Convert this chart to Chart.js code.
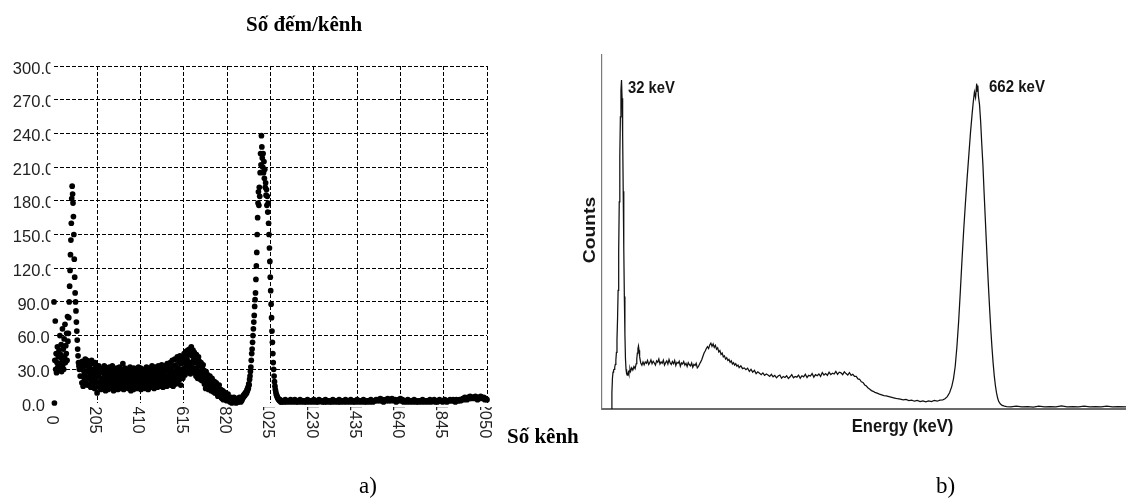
<!DOCTYPE html>
<html><head><meta charset="utf-8">
<script src="https://cdn.jsdelivr.net/npm/chart.js@4.4.1/dist/chart.umd.min.js"></script>
<style>
html,body{margin:0;padding:0;background:#fff;width:1126px;height:498px;overflow:hidden;}
#ca{position:absolute;left:0;top:0;width:600px;height:498px;}
#cb{position:absolute;left:560px;top:0;width:566px;height:498px;}
</style></head><body>
<canvas id="ca" width="600" height="498"></canvas>
<canvas id="cb" width="566" height="498"></canvas>
<script>
// ---------- Panel a) : counts per channel (dots) ----------
const xTickLabels = ['0','205','410','615','820','1025','1230','1435','1640','1845','2050'];
const yTickLabels = ['0.0','30.0','60.0','90.0','120.0','150.0','180.0','210.0','240.0','270.0','300.0'];
// each segment: first channel and channel step
const segmentStartChannels = [0, 130, 892, 1085];
const segmentSteps = [2, 2, 2, 5];
// ch 0-128
const countsLowEnergy = [90,0,38,73,30,44,27,36,50,32,41,29,47,35,60,31,43,52,28,39,66,34,48,30,57,41,70,36,51,44,62,38,77,55,
 62,76,90,104,118,132,145,160,182,193,186,178,166,150,128,112,98,90,82,72,64,56,48,42,36,33,30,36,24,32];
// ch 130-890
const countsCompton = [
 32,18,37,24,15,29,35,21,26,39, 19,33,23,38,16,28,36,22,31,17, 34,25,14,30,38,20,27,16,35,23, 29,13,36,21,32,18,26,9,30,15,
 24,33,14,27,19,31,12,22,29,16, 30,20,13,26,33,17,23,11,28,21, 15,31,24,12,27,19,32,16,25,22, 29,13,21,33,17,26,11,30,20,24,
 14,28,22,31,16,25,12,29,19,23, 32,15,27,20,13,30,24,17,35,21, 12,26,18,31,22,14,28,20,25,16, 30,13,23,27,17,32,19,11,26,21,
 15,29,24,12,31,18,22,27,14,30, 20,25,13,28,17,32,22,15,26,19, 31,12,24,29,16,21,27,14,30,18, 23,13,28,19,32,16,25,21,12,29,
 17,26,31,14,22,28,19,33,15,24, 20,30,13,27,18,32,23,16,29,21, 14,26,33,19,24,15,30,22,17,28, 34,18,25,14,31,21,27,16,33,23,
 19,29,15,35,24,20,32,17,28,22, 36,16,26,31,19,38,23,15,33,27, 20,39,25,17,34,29,22,41,18,31, 26,37,21,42,28,16,35,24,40,30,
 22,38,27,44,31,25,41,35,46,29, 39,27,47,33,43,30,48,36,26,45, 50,34,42,29,47,38,31,45,27,41, 36,24,43,30,39,22,34,41,27,37,
 25,33,21,36,28,20,31,24,34,22, 29,17,26,21,13,28,19,24,15,25, 20,12,23,16,24,14,21,11,19,22, 13,20,10,17,14,19,9,16,12,18,
 15,8,12,6,14,10,16,7,11,9, 12,5,9,4,11,7,3,10,6,8, 5,9,3,7,2,6,4,8,3,5, 2,4,1,3,5,2,0,4,1,3,
 2,5,1,3,2,4,0,3,1,4, 3,1,4,2,5,2,3,1,4,2, 3];
// ch 892-1080
const countsPhotopeak = [4,6,5,7,6,8,7,9,8,10, 9,12,11,14,13,17,16,21,24,28, 32,38,44,48,54,60,66,72,78,86,
 92,98,110,122,134,150,165,178,188,176, 192,184,205,222,212,238,228,218,210,222, 205,215,200,208,192,196,185,190,176,184,
 170,178,160,150,138,126,112,100,88,76, 64,54,44,36,30,24,19,15,12,10, 8,7,6,5,4,4,3,3,2,3, 2,1,2,1,2];
// ch 1085-2050
const countsHighEnergy = [
 2,1,3,1,2,2,1,3,2,1, 2,3,1,2,1,2,3,1,2,2, 1,2,1,3,2,1,2,2,1,3, 2,1,2,1,3,2,2,1,2,1,
 3,1,2,2,1,2,1,3,2,1, 2,2,1,3,1,2,2,1,2,3, 1,2,2,1,3,2,1,2,1,2, 3,1,2,2,1,2,3,1,2,1,
 2,2,1,3,2,1,2,2,3,2, 3,2,4,2,3,1,2,3,2,4, 2,3,2,4,3,2,3,1,2,3, 2,4,2,3,1,2,2,1,3,2,
 1,2,2,1,3,2,1,2,1,2, 2,1,3,2,1,2,2,1,2,3, 1,2,2,3,1,2,1,2,3,2, 2,1,2,3,2,1,2,2,3,2,
 2,3,2,1,3,2,2,3,2,3, 4,3,5,4,3,5,4,6,4,5, 5,4,6,5,3,5,4,6,5,4, 5,3,4,3];

// ---------- Panel b) : energy spectrum (line), [keV, counts] ----------
const spectrumXray = [[14,0],[15,45],[16,88],[17,104],[18,110],[19,112],[20,118],[21,126],[22,138],[23,160],[24,196],[25,255],[26,335],[27,445],[28,585],[29,715],[30,825],[31,900],[32,929],[33,878],[34,775],[35,615],[36,455],[37,318],[38,212],[39,142],[40,112],[41,100],[42,96],[43,99],[44,104],[45,98],[46,108],[47,113],[48,106],[50,116],[52,110],[54,120],[56,114],[58,128],[59,142],[60,158],[61,170],[62,178],[63,166],[64,148],[66,130],[68,124],[70,133]];
const spectrumCompton = [[72,125],[74,133],[76,129],[78,137],[80,126],[82,131],[84,139],[86,128],[88,135],[90,130],[92,124],[94,136],[96,132],[98,141],[100,127],[102,133],[104,129],[106,138],[108,124],[110,131],[112,136],[114,127],[116,140],[118,130],[120,126],[122,134],[124,128],[126,137],[128,123],[130,132],[132,129],[134,135],[136,121],[138,130],[140,127],[142,134],[144,124],[146,129],[148,120],[150,131],[152,125],[154,122],[156,130],[158,118],[160,126],[162,123],[164,129],[166,116],[168,120],[170,127],[172,133],[174,140],[176,149],[178,158],[180,164],[182,171],[184,176],[186,171],[188,181],[190,186],[192,177],[194,184],[196,174],[198,180],[200,169],[202,173],[204,161],[206,165],[208,154],[210,158],[212,147],[214,150],[216,141],[218,145],[220,137],[222,140],[224,132],[226,136],[228,127],[230,131],[232,124],[234,128],[236,121],[238,124],[240,117],[243,122],[246,114],[249,116],[252,111],[255,115],[258,106],[261,112],[264,104],[267,109],[270,100],[273,105],[276,101],[279,97],[282,102],[285,95],[288,99],[291,96],[294,92],[297,98],[300,91],[303,95],[306,88],[309,93],[312,96],[315,87],[318,92],[321,89],[324,94],[327,86],[330,91],[333,97],[336,88],[339,92],[342,90],[345,96],[348,87],[351,94],[354,91],[357,98],[360,89],[363,95],[366,93],[369,100],[372,90],[375,97],[378,94],[381,99],[384,92],[387,103],[390,96],[393,100],[396,95],[399,104],[402,97],[405,101],[408,99],[411,106],[414,98],[417,104],[420,102],[423,97],[426,105],[429,100],[432,96],[435,103],[438,95],[441,98],[444,92],[447,92],[450,85],[453,84],[456,77],[459,75],[462,68],[465,65],[468,59],[471,56],[474,52],[477,50],[480,47],[484,45],[488,42],[492,40],[496,38],[500,37],[505,35],[510,33],[515,31],[520,29],[525,28],[530,26],[535,27],[540,24],[545,25],[550,22],[555,24],[560,21],[565,23],[570,20],[575,23],[580,21],[585,24],[590,22],[595,25],[600,26],[604,29],[608,35]];
const spectrumPhotopeak = [[612,46],[616,64],[619,86],[622,120],[625,175],[628,245],[631,330],[634,420],[637,505],[640,580],[643,650],[646,715],[649,780],[652,835],[654,868],[656,895],[658,880],[660,919],[661,898],[662,914],[663,885],[665,860],[667,812],[669,748],[671,690],[673,615],[675,545],[677,475],[679,405],[681,340],[683,280],[685,224],[687,174],[689,131],[691,95],[693,67],[695,46],[697,31],[699,21],[702,14],[705,10],[709,8],[713,7]];
const spectrumTail = [[720,6],[730,8],[740,6],[750,7],[760,5],[770,8],[780,6],[790,7],[800,6],[810,9],[820,6],[830,7],[840,6],[850,8],[860,6],[870,7],[880,6],[890,8],[900,6],[910,7],[924,6]];
const peakLabels = ['32 keV', '662 keV'];

// ---------- build ----------
const xTickValues = xTickLabels.map(Number);
const yTickValues = yTickLabels.map(Number);
const pointsA = [];
[countsLowEnergy, countsCompton, countsPhotopeak, countsHighEnergy].forEach((seg, k) => {
  seg.forEach((v, i) => pointsA.push({x: segmentStartChannels[k] + i * segmentSteps[k], y: v}));
});
const pointsB = [].concat(spectrumXray, spectrumCompton, spectrumPhotopeak, spectrumTail).map(p => ({x: p[0], y: p[1]}));

const gridColorSkipZero = c => (c.tick && c.tick.value === 0) ? 'rgba(0,0,0,0)' : '#000';

const labelsA = {
  id: 'labelsA',
  afterDraw(chart) {
    const {ctx} = chart;
    const xs = chart.scales.x, ys = chart.scales.y;
    ctx.save();
    ctx.fillStyle = '#222';
    ctx.font = '16.5px "Liberation Sans", Arial, sans-serif';
    ctx.save();
    ctx.beginPath(); ctx.rect(0, 0, 50.5, 498); ctx.clip();
    ctx.textAlign = 'center'; ctx.textBaseline = 'alphabetic';
    yTickLabels.forEach((lab, i) => {
      const py = ys.getPixelForValue(yTickValues[i]);
      ctx.fillText(lab, 33.5, py + 7.6);
    });
    ctx.restore();
    ctx.save();
    ctx.beginPath(); ctx.rect(0, 407, 600, 91); ctx.clip();
    xTickLabels.forEach((lab, i) => {
      const px = xs.getPixelForValue(xTickValues[i]);
      ctx.save();
      ctx.translate(px, 420);
      ctx.rotate(Math.PI / 2);
      ctx.textAlign = 'center'; ctx.textBaseline = 'alphabetic';
      ctx.fillText(lab, 0, 7.3);
      ctx.restore();
    });
    ctx.restore();
    ctx.fillStyle = '#000';
    ctx.textAlign = 'left'; ctx.textBaseline = 'alphabetic';
    ctx.font = 'bold 21px "Liberation Serif", "Times New Roman", serif';
    ctx.fillText('Số đếm/kênh', 246, 31);
    ctx.fillText('Số kênh', 507, 443);
    ctx.font = '23px "Liberation Serif", "Times New Roman", serif';
    ctx.fillText('a)', 359, 492.5);
    ctx.restore();
  }
};

new Chart(document.getElementById('ca'), {
  type: 'scatter',
  data: { datasets: [{ data: pointsA, pointRadius: 2.85, pointHoverRadius: 2.85,
    pointBackgroundColor: '#000', pointBorderWidth: 0, clip: false }] },
  options: {
    responsive: false, animation: false, devicePixelRatio: 1, events: [],
    layout: { autoPadding: false, padding: { left: 0, right: 600 - 487, top: 66, bottom: 498 - 403 } },
    plugins: { legend: {display: false}, tooltip: {enabled: false}, title: {display: false} },
    scales: {
      x: { type: 'linear', min: 0, max: 2050,
        afterBuildTicks: s => { s.ticks = xTickValues.map(v => ({value: v})); },
        ticks: {display: false},
        grid: {drawTicks: false, lineWidth: 1, color: gridColorSkipZero},
        border: {display: false, dash: [4, 2]},
        afterFit: s => { s.height = 0; } },
      y: { type: 'linear', min: 0, max: 300,
        afterBuildTicks: s => { s.ticks = yTickValues.map(v => ({value: v})); },
        ticks: {display: false},
        grid: {drawTicks: false, lineWidth: 1, color: gridColorSkipZero},
        border: {display: false, dash: [4, 2]},
        afterFit: s => { s.width = 54; } }
    }
  },
  plugins: [labelsA]
});

const OFFB = 560;
function stretchedText(ctx, text, x, y, sx, sy, rot, align) {
  ctx.save();
  ctx.translate(x, y);
  if (rot) ctx.rotate(rot);
  ctx.scale(sx, sy);
  ctx.textAlign = align; ctx.textBaseline = 'alphabetic';
  ctx.fillText(text, 0, 0);
  ctx.restore();
}
const labelsB = {
  id: 'labelsB',
  afterDraw(chart) {
    const {ctx} = chart;
    ctx.save();
    ctx.fillStyle = '#151515';
    ctx.font = 'bold 16.6px "Liberation Sans", Arial, sans-serif';
    stretchedText(ctx, 'Counts', 594.8 - OFFB, 230, 1.16, 1, -Math.PI / 2, 'center');
    stretchedText(ctx, 'Energy (keV)', 902.5 - OFFB, 431.7, 1, 1.12, 0, 'center');
    ctx.font = 'bold 14.8px "Liberation Sans", Arial, sans-serif';
    stretchedText(ctx, peakLabels[0], 628 - OFFB, 92.5, 1, 1.16, 0, 'left');
    ctx.font = 'bold 15px "Liberation Sans", Arial, sans-serif';
    stretchedText(ctx, peakLabels[1], 989 - OFFB, 91.7, 1, 1.16, 0, 'left');
    ctx.fillStyle = '#000';
    ctx.font = '23px "Liberation Serif", "Times New Roman", serif';
    stretchedText(ctx, 'b)', 936 - OFFB, 492.5, 1, 1, 0, 'left');
    ctx.restore();
  }
};

new Chart(document.getElementById('cb'), {
  type: 'line',
  data: { datasets: [{ data: pointsB, borderColor: '#111', borderWidth: 1.25,
    pointRadius: 0, pointHoverRadius: 0, tension: 0, fill: false }] },
  options: {
    responsive: false, animation: false, devicePixelRatio: 1, events: [],
    layout: { autoPadding: false, padding: { left: 602 - OFFB, right: 0, top: 55, bottom: 498 - 409 } },
    plugins: { legend: {display: false}, tooltip: {enabled: false}, title: {display: false} },
    scales: {
      x: { type: 'linear', min: -2.5, max: 924,
        ticks: {display: false}, grid: {display: false, drawTicks: false},
        border: {display: true, color: '#6b6b6b', width: 2},
        afterFit: s => { s.height = 0; } },
      y: { type: 'linear', min: 0, max: 1000,
        ticks: {display: false}, grid: {display: false, drawTicks: false},
        border: {display: true, color: '#7a7a7a', width: 1.2},
        afterFit: s => { s.width = 0; } }
    }
  },
  plugins: [labelsB]
});
</script></body></html>
